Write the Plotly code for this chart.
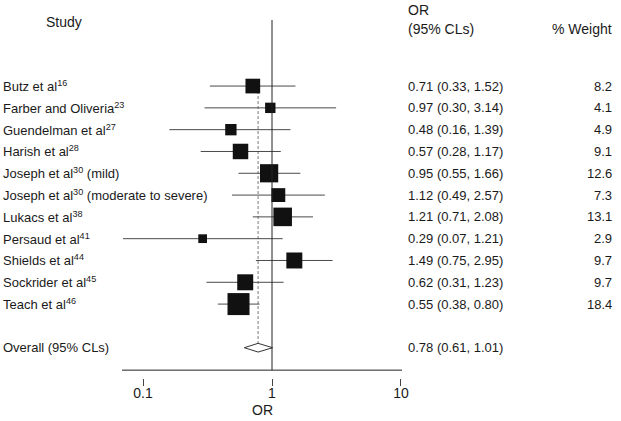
import numpy as np
import plotly.graph_objects as go

studies = ["Butz et al<sup>16</sup>", "Farber and Oliveria<sup>23</sup>",
           "Guendelman et al<sup>27</sup>", "Harish et al<sup>28</sup>",
           "Joseph et al<sup>30</sup> (mild)",
           "Joseph et al<sup>30</sup> (moderate to severe)",
           "Lukacs et al<sup>38</sup>", "Persaud et al<sup>41</sup>",
           "Shields et al<sup>44</sup>", "Sockrider et al<sup>45</sup>",
           "Teach et al<sup>46</sup>"]
odds = [0.71, 0.97, 0.48, 0.57, 0.95, 1.12, 1.21, 0.29, 1.49, 0.62, 0.55]
lower = [0.33, 0.30, 0.16, 0.28, 0.55, 0.49, 0.71, 0.07, 0.75, 0.31, 0.38]
upper = [1.52, 3.14, 1.39, 1.17, 1.66, 2.57, 2.08, 1.21, 2.95, 1.23, 0.80]
weight = [8.2, 4.1, 4.9, 9.1, 12.6, 7.3, 13.1, 2.9, 9.7, 9.7, 18.4]

overall_label = "Overall (95% CLs)"
overall_or, overall_lo, overall_hi = 0.78, 0.61, 1.01

tick_vals = [0.1, 1, 10]
tick_text = ["0.1", "1", "10"]

FONT = "Liberation Sans, Arial, sans-serif"
rows = list(range(len(studies)))
y_overall = len(studies) + 1
AXIS_Y = 13.03

odds_a = np.array(odds)
fig = go.Figure()

# studies: box + CI
fig.add_trace(go.Scatter(
    x=odds, y=rows, mode="markers",
    marker=dict(symbol="square", size=5.13 * np.sqrt(weight), color="#111111",
                opacity=1, line=dict(width=0)),
    error_x=dict(type="data", symmetric=False,
                 array=np.array(upper) - odds_a,
                 arrayminus=odds_a - np.array(lower),
                 width=0, thickness=1, color="#4a4a4a"),
    hoverinfo="skip", showlegend=False))

# overall diamond
fig.add_trace(go.Scatter(
    x=[overall_lo, overall_or, overall_hi, overall_or, overall_lo],
    y=[y_overall, y_overall - 0.2, y_overall, y_overall + 0.2, y_overall],
    mode="lines", fill="toself", fillcolor="white",
    line=dict(color="#333333", width=1), hoverinfo="skip", showlegend=False))

# reference lines
fig.add_shape(type="line", x0=1, x1=1, xref="x", y0=-3.03, y1=AXIS_Y, yref="y",
              line=dict(color="#222222", width=1))
fig.add_shape(type="line", x0=overall_or, x1=overall_or, xref="x", y0=0, y1=y_overall,
              yref="y", line=dict(color="#777777", width=1, dash="3px,2px"), layer="below")
fig.add_shape(type="line", x0=0, x1=1, xref="paper", y0=AXIS_Y, y1=AXIS_Y, yref="y",
              line=dict(color="#222222", width=1))

ann = []
tf = dict(family=FONT, size=13, color="#1a1a1a")
hf = dict(family=FONT, size=14, color="#1a1a1a")
for r, s, o, l, u, w in zip(rows, studies, odds, lower, upper, weight):
    ann.append(dict(x=-0.432, y=r, xref="paper", yref="y", text=s, showarrow=False,
                    xanchor="left", font=tf))
    ann.append(dict(x=1.014, y=r, xref="paper", yref="y",
                    text=f"{o:.2f} ({l:.2f}, {u:.2f})", showarrow=False,
                    xanchor="left", font=tf))
    ann.append(dict(x=1.757, y=r, xref="paper", yref="y", text=f"{w:.1f}",
                    showarrow=False, xanchor="right", font=tf))
ann.append(dict(x=-0.432, y=y_overall, xref="paper", yref="y", text=overall_label,
                showarrow=False, xanchor="left", font=tf))
ann.append(dict(x=1.014, y=y_overall, xref="paper", yref="y",
                text=f"{overall_or:.2f} ({overall_lo:.2f}, {overall_hi:.2f})",
                showarrow=False, xanchor="left", font=tf))
# headers
ann.append(dict(x=-0.279, y=0.994, xref="paper", yref="paper", text="Study",
                showarrow=False, xanchor="left", yanchor="middle", font=hf))
ann.append(dict(x=1.014, y=1.028, xref="paper", yref="paper", text="OR",
                showarrow=False, xanchor="left", yanchor="middle", font=hf))
ann.append(dict(x=1.014, y=0.975, xref="paper", yref="paper", text="(95% CLs)",
                showarrow=False, xanchor="left", yanchor="middle", font=hf))
ann.append(dict(x=1.757, y=0.975, xref="paper", yref="paper", text="% Weight",
                showarrow=False, xanchor="right", yanchor="middle", font=hf))
# x axis title
ann.append(dict(x=0.5, y=-0.089, xref="paper", yref="paper", text="OR",
                showarrow=False, xanchor="center", yanchor="middle", font=hf))

fig.update_layout(
    width=621, height=421,
    margin=dict(l=122, r=219, t=20, b=43),
    plot_bgcolor="white", paper_bgcolor="white",
    annotations=ann,
    xaxis=dict(type="log", range=[-1.163, 1.008], tickvals=tick_vals, ticktext=tick_text,
               ticks="outside", ticklen=7, tickcolor="#444444", showgrid=False,
               zeroline=False, showline=False, automargin=False, ticklabelstandoff=-5,
               tickfont=dict(family=FONT, size=14, color="#1a1a1a")),
    yaxis=dict(range=[13.39, -3.03], showticklabels=False, showgrid=False,
               zeroline=False, showline=False, ticks="", automargin=False),
)

fig.write_html("out.html", config={"displayModeBar": False},
               post_script="document.body.style.margin='0px';")
